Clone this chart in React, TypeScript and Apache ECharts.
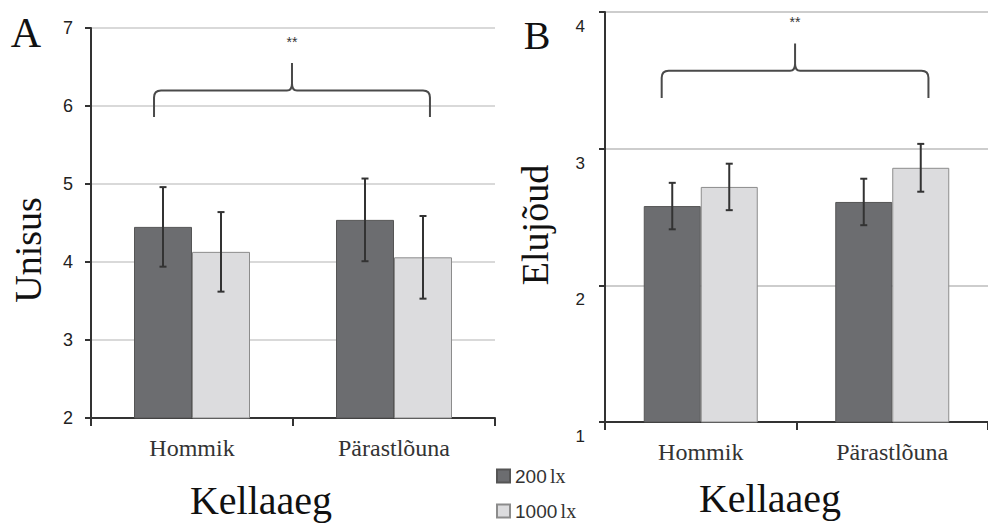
import React, { useEffect, useRef } from "react";
import * as echarts from "echarts";

// ---- data ----
const categories = ["Hommik", "Pärastlõuna"];
const seriesNames = ["200 lx", "1000 lx"];

const unisus200 = [4.45, 4.54];
const unisus1000 = [4.13, 4.06];
const unisusErr200 = [0.51, 0.53];
const unisusErr1000 = [0.51, 0.53];

const elujoud200 = [2.58, 2.61];
const elujoud1000 = [2.72, 2.86];
const elujoudErr200 = [0.17, 0.17];
const elujoudErr1000 = [0.17, 0.175];

const unisusRange = [2, 7];
const elujoudRange = [1, 4];

// brace: [leftOffset(cat units from cat 0), rightOffset, bottom, arm, peak, starY]
const braceA = [-0.188, 1.178, 5.86, 6.2, 6.55, 6.82];
const braceB = [-0.204, 1.189, 3.37, 3.57, 3.77, 3.93];
const signifText = "**";

const SERIF = "'Liberation Serif', 'Times New Roman', serif";
const SANS = "'Liberation Sans', Arial, sans-serif";
const DARK = "#6c6d70";
const LIGHT = "#dcdcde";

function errData(e0: number[], v0: number[], e1: number[], v1: number[]) {
  const out: number[][] = [];
  for (let i = 0; i < v0.length; i++) {
    out.push([i, v0[i] - e0[i], v0[i] + e0[i], -1]);
    out.push([i, v1[i] - e1[i], v1[i] + e1[i], 1]);
  }
  return out;
}

function errorSeries(idx: number, data: number[][], half: number) {
  return {
    type: "custom",
    xAxisIndex: idx,
    yAxisIndex: idx,
    data,
    encode: { x: 0, y: [1, 2] },
    silent: true,
    z: 10,
    renderItem: (params: any, api: any) => {
      const c = api.value(0);
      const lo = api.coord([c, api.value(1)]);
      const hi = api.coord([c, api.value(2)]);
      const x = lo[0] + api.value(3) * half;
      const cap = 3.5;
      const st = { stroke: "#333", lineWidth: 2 };
      return {
        type: "group",
        children: [
          { type: "line", shape: { x1: x, y1: lo[1], x2: x, y2: hi[1] }, style: st },
          { type: "line", shape: { x1: x - cap, y1: lo[1], x2: x + cap, y2: lo[1] }, style: st },
          { type: "line", shape: { x1: x - cap, y1: hi[1], x2: x + cap, y2: hi[1] }, style: st },
        ],
      };
    },
  };
}

function braceSeries(idx: number, b: number[]) {
  return {
    type: "custom",
    xAxisIndex: idx,
    yAxisIndex: idx,
    data: [[0, b[2]]],
    encode: { x: 0, y: 1 },
    silent: true,
    z: 10,
    renderItem: (params: any, api: any) => {
      const bw = api.size([1, 0])[0];
      const c0 = api.coord([0, b[2]])[0];
      const x1 = c0 + b[0] * bw;
      const x2 = c0 + b[1] * bw;
      const xm = (x1 + x2) / 2;
      const yb = api.coord([0, b[2]])[1];
      const ya = api.coord([0, b[3]])[1];
      const yp = api.coord([0, b[4]])[1];
      const ys = api.coord([0, b[5]])[1];
      const r = 7;
      const d =
        `M ${x1} ${yb} L ${x1} ${ya + r} Q ${x1} ${ya} ${x1 + r} ${ya} ` +
        `L ${xm - 5} ${ya} Q ${xm} ${ya} ${xm} ${ya - 7} L ${xm} ${yp} ` +
        `M ${xm} ${ya - 7} Q ${xm} ${ya} ${xm + 5} ${ya} ` +
        `L ${x2 - r} ${ya} Q ${x2} ${ya} ${x2} ${ya + r} L ${x2} ${yb}`;
      return {
        type: "group",
        children: [
          {
            type: "path",
            shape: { pathData: d },
            style: { stroke: "#4a4a4a", lineWidth: 2, fill: "none" },
          },
          {
            type: "text",
            style: {
              text: signifText,
              x: xm,
              y: ys,
              align: "center",
              verticalAlign: "middle",
              fontSize: 14,
              fontFamily: SANS,
              fill: "#333",
            },
          },
        ],
      };
    },
  };
}

function legendFor(name: string, top: number) {
  return {
    orient: "vertical",
    left: 496,
    top,
    padding: 0,
    itemWidth: 13,
    itemHeight: 13,
    itemGap: 0,
    icon: "rect",
    data: [name],
    formatter: (n: string) => {
      const parts = n.split(" ");
      return `{a|${parts[0]}} {b|${parts[1]}}`;
    },
    textStyle: {
      rich: {
        a: { fontFamily: SANS, fontSize: 19, lineHeight: 20, color: "#333" },
        b: { fontFamily: SERIF, fontSize: 20, lineHeight: 20, color: "#333" },
      },
    },
  };
}

export default function App() {
  const ref = useRef<HTMLDivElement>(null);

  useEffect(() => {
    document.body.style.margin = "0";
    const chart = echarts.init(ref.current!, null, { renderer: "svg" });

    const xAxisBase = {
      type: "category",
      data: categories,
      axisLine: { lineStyle: { color: "#333", width: 2 } },
      axisTick: { show: true, length: 8, lineStyle: { color: "#333", width: 2 } },
      axisLabel: { fontFamily: SERIF, fontSize: 24, color: "#333", margin: 18 },
    };
    const yAxisBase = {
      type: "value",
      interval: 1,
      axisLine: { show: true, lineStyle: { color: "#333", width: 2 } },
      axisTick: { show: true, length: 6, lineStyle: { color: "#333", width: 2 } },
    };

    const option: any = {
      animation: false,
      backgroundColor: "#fff",
      grid: [
        { left: 91, top: 28, width: 404, height: 390 },
        { left: 605, top: 12, width: 392, height: 410 },
      ],
      xAxis: [
        { ...xAxisBase, gridIndex: 0 },
        { ...xAxisBase, gridIndex: 1 },
      ],
      yAxis: [
        {
          ...yAxisBase,
          gridIndex: 0,
          min: unisusRange[0],
          max: unisusRange[1],
          splitLine: { lineStyle: { color: "#d9d9d9", width: 2 } },
          axisLabel: { fontFamily: SANS, fontSize: 18, color: "#222", margin: 18 },
        },
        {
          ...yAxisBase,
          gridIndex: 1,
          min: elujoudRange[0],
          max: elujoudRange[1],
          splitLine: { lineStyle: { color: "#bdbdbd", width: 1.5 } },
          axisLabel: {
            fontFamily: SANS,
            fontSize: 17,
            color: "#222",
            margin: 20,
            verticalAlign: "top",
            padding: [6, 0, 0, 0],
          },
        },
      ],
      legend: [legendFor(seriesNames[0], 466), legendFor(seriesNames[1], 501)],
      graphic: [
        { type: "text", x: 26, y: 33, style: { text: "A", align: "center", verticalAlign: "middle", font: `42px ${SERIF}`, fill: "#111" } },
        { type: "text", x: 537, y: 35, style: { text: "B", align: "center", verticalAlign: "middle", font: `40px ${SERIF}`, fill: "#111" } },
        { type: "text", x: 28, y: 250, rotation: Math.PI / 2, style: { text: "Unisus", align: "center", verticalAlign: "middle", font: `38px ${SERIF}`, fill: "#111" } },
        { type: "text", x: 535, y: 225, rotation: Math.PI / 2, style: { text: "Elujõud", align: "center", verticalAlign: "middle", font: `38px ${SERIF}`, fill: "#111" } },
        { type: "text", x: 261, y: 500, style: { text: "Kellaaeg", align: "center", verticalAlign: "middle", font: `40px ${SERIF}`, fill: "#111" } },
        { type: "text", x: 770, y: 498, style: { text: "Kellaaeg", align: "center", verticalAlign: "middle", font: `40px ${SERIF}`, fill: "#111" } },
      ],
      series: [
        {
          name: seriesNames[0], type: "bar", xAxisIndex: 0, yAxisIndex: 0, data: unisus200,
          barWidth: 58, barGap: "0%",
          itemStyle: { color: DARK, borderColor: "#555", borderWidth: 1 },
        },
        {
          name: seriesNames[1], type: "bar", xAxisIndex: 0, yAxisIndex: 0, data: unisus1000,
          barWidth: 58, barGap: "0%",
          itemStyle: { color: LIGHT, borderColor: "#8c8c8c", borderWidth: 1 },
        },
        {
          name: seriesNames[0], type: "bar", xAxisIndex: 1, yAxisIndex: 1, data: elujoud200,
          barWidth: 57, barGap: "0%",
          itemStyle: { color: DARK, borderColor: "#555", borderWidth: 1 },
        },
        {
          name: seriesNames[1], type: "bar", xAxisIndex: 1, yAxisIndex: 1, data: elujoud1000,
          barWidth: 57, barGap: "0%",
          itemStyle: { color: LIGHT, borderColor: "#8c8c8c", borderWidth: 1 },
        },
        errorSeries(0, errData(unisusErr200, unisus200, unisusErr1000, unisus1000), 29),
        errorSeries(1, errData(elujoudErr200, elujoud200, elujoudErr1000, elujoud1000), 28.5),
        braceSeries(0, braceA),
        braceSeries(1, braceB),
      ],
    };

    chart.setOption(option);
    return () => chart.dispose();
  }, []);

  return (
    <div
      ref={ref}
      style={{ position: "absolute", left: 0, top: 0, width: 988, height: 523 }}
    />
  );
}
